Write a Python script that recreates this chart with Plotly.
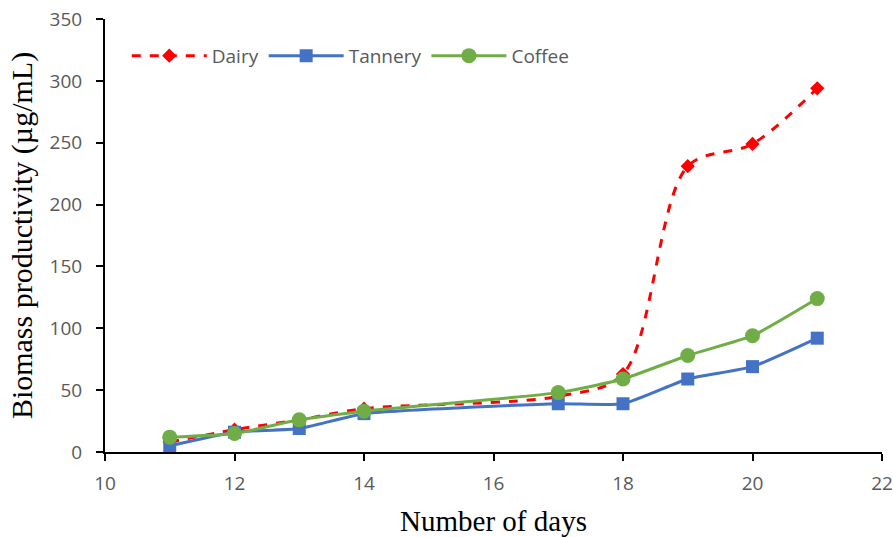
import plotly.graph_objects as go

days = [11, 12, 13, 14, 17, 18, 19, 20, 21]
dairy = [8, 18, 26, 35, 45, 63, 231, 249, 294]
tannery = [5, 16, 19, 31, 39, 39, 59, 69, 92]
coffee = [12, 15, 26, 33, 48, 59, 78, 94, 124]

fig = go.Figure()
fig.add_trace(go.Scatter(x=days, y=dairy, name="Dairy", mode="lines+markers",
                         line=dict(color="#ff0000", width=3, dash="dash", shape="spline", smoothing=0.9),
                         marker=dict(symbol="diamond", size=11, color="#ff0000")))
fig.add_trace(go.Scatter(x=days, y=tannery, name="Tannery", mode="lines+markers",
                         line=dict(color="#4472c4", width=3, shape="spline", smoothing=0.5),
                         marker=dict(symbol="square", size=13, color="#4472c4")))
fig.add_trace(go.Scatter(x=days, y=coffee, name="Coffee", mode="lines+markers",
                         line=dict(color="#70ad47", width=3, shape="spline", smoothing=0.5),
                         marker=dict(symbol="circle", size=15, color="#70ad47")))

tickfont = dict(family="Open Sans, Liberation Sans", size=19, color="#595959")
axis_common = dict(showline=True, linecolor="black", linewidth=2, ticks="outside",
                   tickcolor="black", ticklen=7, tickwidth=2, showgrid=False, zeroline=False,
                   automargin=False, tickfont=tickfont, ticklabeloverflow="allow")
fig.update_xaxes(range=[10, 22], dtick=2, tick0=10, ticklabelstandoff=6,
                 title=dict(text="Number of days", font=dict(family="Liberation Serif", size=29, color="black"), standoff=17),
                 **axis_common)
fig.update_yaxes(range=[0, 350], dtick=50, ticklabelstandoff=10,
                 title=dict(text="Biomass productivity (µg/mL)", font=dict(family="Liberation Serif", size=30, color="black"), standoff=8),
                 **axis_common)
fig.update_layout(width=893, height=537, plot_bgcolor="white", paper_bgcolor="white",
                  margin=dict(l=105, r=11, t=19, b=85),
                  legend=dict(orientation="h", x=0.028, y=0.915, xanchor="left", yanchor="middle",
                              font=dict(family="Open Sans, Liberation Sans", size=19, color="#595959"),
                              bgcolor="rgba(0,0,0,0)", itemwidth=75, tracegroupgap=0))
fig.write_html("out.html", config={"displayModeBar": False},
               post_script="document.body.style.margin='0';document.body.style.overflow='hidden';"
                           "document.querySelectorAll('svg.main-svg').forEach(function(s){s.style.overflow='visible';});")
